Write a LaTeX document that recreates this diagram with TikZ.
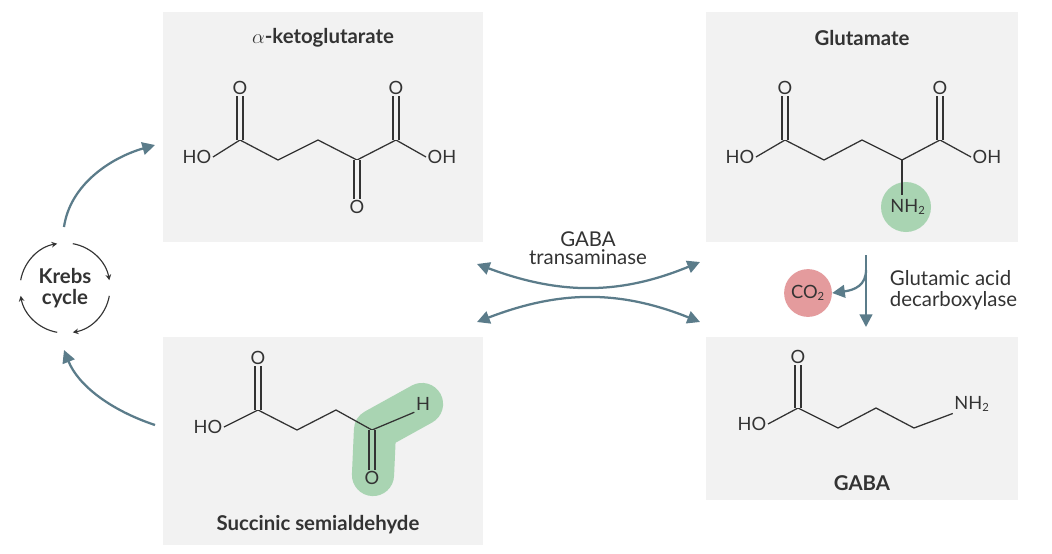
\documentclass[tikz,border=0pt]{standalone}
\usepackage{fontspec}
\setmainfont{Lato}
\usetikzlibrary{arrows.meta}
\definecolor{boxg}{HTML}{F2F2F2}
\definecolor{arr}{HTML}{5B7C8A}
\definecolor{grn}{HTML}{A9D4B2}
\definecolor{redc}{HTML}{E49B9D}
\definecolor{txt}{HTML}{333333}
\newcommand{\sbs}[1]{\textsubscript{\fontsize{8}{9}\selectfont #1}}
\begin{document}
\begin{tikzpicture}[x=0.025cm,y=-0.025cm,
  panel/.style={fill=boxg,draw=none},
  title/.style={font=\bfseries\fontsize{14.5}{17}\selectfont,text=txt},
  atom/.style={font=\fontsize{13}{15}\selectfont,text=txt,inner sep=1pt},
  bond/.style={line width=0.9pt,draw=txt},
  dbl/.style={line width=0.9pt,draw=txt,double=boxg,double distance=3.2pt},
  flow/.style={draw=arr,line width=1.6pt,-{Triangle[length=9pt,width=9pt]}},
  flow2/.style={draw=arr,line width=1.6pt,{Triangle[length=9pt,width=9pt]}-{Triangle[length=9pt,width=9pt]}},
  lab/.style={font=\fontsize{14.5}{17}\selectfont,text=txt,align=center}]
\useasboundingbox (0,0) rectangle (1052,553);
\fill[white] (0,0) rectangle (1052,553);
\fill[panel] (163,12) rectangle (483,242);
\fill[panel] (706,12) rectangle (1018,242);
\fill[panel] (163,337) rectangle (483,545);
\fill[panel] (706,337) rectangle (1018,500);
\node[title] (tak) at (323,38) {$\alpha$-ketoglutarate};
\node[title] (tglu) at (862,38) {Glutamate};
\node[title] (tssa) at (318,525) {Succinic semialdehyde};
\node[title] (tgaba) at (862,483) {GABA};
% alpha-ketoglutarate
\node[atom] (a1) at (197,157) {HO};
\node[atom] (a2) at (442,157) {OH};
\node[atom] (a3) at (240,88) {O};
\node[atom] (a4) at (357,207) {O};
\node[atom] (a5) at (396,88) {O};
\draw[bond] (a1.east) -- (240,140) -- (278,160) -- (318,140) -- (357,160) -- (396,140) -- (a2.west);
\draw[dbl] (240,140) -- (a3.south);
\draw[dbl] (357,160) -- (a4.north);
\draw[dbl] (396,140) -- (a5.south);
% glutamate
\fill[grn] (906,207) circle (25);
\node[atom] (g1) at (740,157) {HO};
\node[atom] (g2) at (987,157) {OH};
\node[atom] (g3) at (785,88) {O};
\node[atom] (g5) at (940,88) {O};
\node[atom] (g4) at (908,207) {NH\sbs{2}};
\draw[bond] (g1.east) -- (785,140) -- (824,160) -- (862,140) -- (902,160) -- (940,140) -- (g2.west);
\draw[dbl] (785,140) -- (g3.south);
\draw[dbl] (940,140) -- (g5.south);
\draw[bond] (902,160) -- (902,195);
% succinic semialdehyde
\draw[grn,line width=30pt,line cap=round,line join=round] (422,404) -- (375,430) -- (373,475);
\node[atom] (s1) at (208,427) {HO};
\node[atom] (s3) at (258,358) {O};
\node[atom] (s4) at (372,478) {O};
\node[atom] (s5) at (423,404) {H};
\draw[bond] (s1.east) -- (258,410) -- (297,430) -- (336,410) -- (372,430) -- (s5.south west);
\draw[dbl] (258,410) -- (s3.south);
\draw[line width=0.9pt,draw=txt,double=grn,double distance=3.2pt] (372,430) -- (s4.north);
% GABA
\node[atom] (b1) at (752,424) {HO};
\node[atom] (b3) at (798,357) {O};
\node[atom] (b4) at (972,404) {NH\sbs{2}};
\draw[bond] (b1.east) -- (798,408) -- (838,428) -- (876,408) -- (914,428) -- (b4.south west);
\draw[dbl] (798,408) -- (b3.south);
% transaminase
\coordinate (l1) at (477,264);
\coordinate (r1) at (700,262);
\coordinate (l2) at (477,322);
\coordinate (r2) at (700,322);
\draw[flow2] (l1) .. controls (560,295) and (620,295) .. (r1);
\draw[flow2] (l2) .. controls (560,290) and (620,290) .. (r2);
\node[lab] (ta) at (588,248) {GABA\\[-4pt]transaminase};
% decarboxylase
\coordinate (vtop) at (866,255);
\coordinate (vbot) at (866,327);
\coordinate (vbr) at (866,270);
\draw[flow] (vtop) -- (vbot);
\node[circle,fill=redc,minimum size=34pt,inner sep=0pt,font=\fontsize{13}{15}\selectfont,text=txt] (co2) at (808,293) {CO\sbs{2}};
\draw[flow] (vbr) .. controls (866,285) and (855,290) .. (co2.east);
\node[lab,align=left,anchor=west] (gad) at (885,290) {Glutamic acid\\[-2pt]decarboxylase};
% Krebs
\node[font=\bfseries\fontsize{14.5}{17}\selectfont,text=txt,align=center] (kc) at (65,288) {Krebs\\[-2pt]cycle};
\begin{scope}[draw=txt,line width=0.8pt,-{Stealth[length=4pt,width=4pt]}]
\draw (65,288) ++(-170:45) arc[start angle=-170,end angle=-100,radius=45];
\draw (65,288) ++(-80:45) arc[start angle=-80,end angle=-10,radius=45];
\draw (65,288) ++(10:45) arc[start angle=10,end angle=80,radius=45];
\draw (65,288) ++(100:45) arc[start angle=100,end angle=170,radius=45];
\end{scope}
\coordinate (k1) at (64,227);
\coordinate (k2) at (64,350);
\draw[flow] (k1) .. controls (70,185) and (110,158) .. (155,145);
\draw[flow] (155,425) .. controls (110,410) and (78,385) .. (k2);
\end{tikzpicture}
\end{document}
